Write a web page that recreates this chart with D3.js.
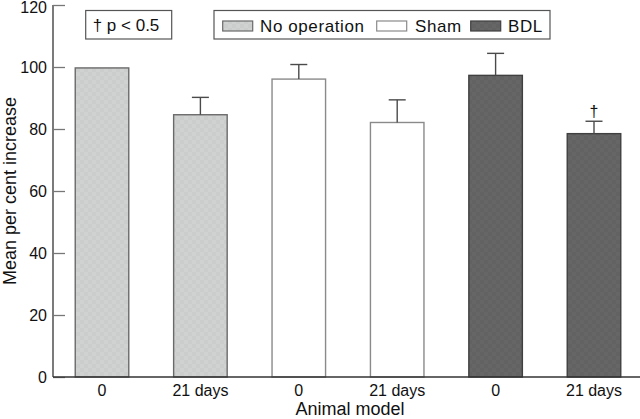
<!DOCTYPE html>
<html>
<head>
<meta charset="utf-8">
<script src="https://cdn.jsdelivr.net/npm/d3@7"></script>
<style>
  html, body { margin: 0; padding: 0; background: #fff; }
  svg { display: block; font-family: "Liberation Sans", Arial, Helvetica, sans-serif; }
</style>
</head>
<body>
<svg id="chart" width="640" height="419"></svg>
<script>
// ---- data ----
const categories = ["0", "21 days", "0", "21 days", "0", "21 days"];
const groups = ["No operation", "No operation", "Sham", "Sham", "BDL", "BDL"];
const means = [99.7, 84.6, 96.1, 82.1, 97.3, 78.5];
const errors = [0, 5.6, 4.7, 7.3, 7.1, 4.0];
const significant = [false, false, false, false, false, true];
const yTicks = [0, 20, 40, 60, 80, 100, 120];
const legendLabels = ["No operation", "Sham", "BDL"];
const sigNote = "\u2020 p < 0.5";
const xTitle = "Animal model";
const yTitle = "Mean per cent increase";

// ---- styles ----
const fills = { "No operation": "url(#checkLight)", "Sham": "#ffffff", "BDL": "url(#checkDark)" };
const strokes = { "No operation": "#6a6a6a", "Sham": "#8a8a8a", "BDL": "#404040" };

const svg = d3.select("#chart");
const defs = svg.append("defs");
function checker(id, c1, c2) {
  const p = defs.append("pattern").attr("id", id).attr("width", 8).attr("height", 8)
    .attr("patternUnits", "userSpaceOnUse");
  p.append("rect").attr("width", 8).attr("height", 8).attr("fill", c1);
  p.append("rect").attr("width", 4).attr("height", 4).attr("fill", c2);
  p.append("rect").attr("x", 4).attr("y", 4).attr("width", 4).attr("height", 4).attr("fill", c2);
}
checker("checkLight", "#d0d2d1", "#cbcdcc");
checker("checkDark", "#666666", "#626262");

const x = d3.scaleBand().domain(d3.range(categories.length)).range([53, 643])
  .paddingInner(0.456).paddingOuter(0.226);
const y = d3.scaleLinear().domain([0, 120]).range([377, 5]);

const rows = means.map((m, i) => ({ i, m, e: errors[i], g: groups[i], sig: significant[i] }));

// bars
svg.append("g").selectAll("rect").data(rows).join("rect")
  .attr("x", d => x(d.i))
  .attr("y", d => y(d.m))
  .attr("width", x.bandwidth())
  .attr("height", d => y(0) - y(d.m))
  .attr("fill", d => fills[d.g])
  .attr("stroke", d => strokes[d.g])
  .attr("stroke-width", 1.4);

// error bars
const eg = svg.append("g").attr("stroke", "#4a4a4a").attr("stroke-width", 1.4);
rows.filter(d => d.e > 0).forEach(d => {
  const cx = x(d.i) + x.bandwidth() / 2;
  eg.append("line").attr("x1", cx).attr("x2", cx).attr("y1", y(d.m)).attr("y2", y(d.m + d.e));
  eg.append("line").attr("x1", cx - 8.5).attr("x2", cx + 8.5).attr("y1", y(d.m + d.e)).attr("y2", y(d.m + d.e));
});

// significance marks
svg.append("g").selectAll("text").data(rows.filter(d => d.sig)).join("text")
  .attr("x", d => x(d.i) + x.bandwidth() / 2)
  .attr("y", d => y(d.m + d.e) - 4)
  .attr("text-anchor", "middle")
  .attr("font-size", 16)
  .attr("fill", "#111")
  .text("\u2020");

// y axis
const yAxis = svg.append("g").attr("transform", "translate(53,0)")
  .call(d3.axisRight(y).tickValues(yTicks).tickSize(12).tickFormat(d3.format("d")));
yAxis.select(".domain").attr("stroke", "#333").attr("stroke-width", 1.3).attr("d", `M0,${y(120)}V${y(0)}`);
yAxis.selectAll(".tick line").attr("stroke", "#777").attr("stroke-width", 1.3);
yAxis.selectAll(".tick text").attr("x", -6).attr("text-anchor", "end")
  .attr("font-size", 16).attr("font-family", "Liberation Sans, Arial, sans-serif").attr("fill", "#111");
yAxis.selectAll(".tick text").filter(d => d === 120).attr("dy", "0.45em");

// x axis
const xAxis = svg.append("g").attr("transform", `translate(0,${y(0)})`)
  .call(d3.axisBottom(x).tickSize(0).tickFormat(i => categories[i]));
xAxis.select(".domain").attr("stroke", "#333").attr("stroke-width", 1.3).attr("d", "M53,0H640");
xAxis.selectAll(".tick text").attr("y", 19).attr("dy", 0)
  .attr("font-size", 16).attr("font-family", "Liberation Sans, Arial, sans-serif").attr("fill", "#111");

// axis titles
svg.append("text").attr("x", 350).attr("y", 415).attr("text-anchor", "middle")
  .attr("font-size", 18).attr("fill", "#111").text(xTitle);
svg.append("text").attr("transform", `translate(16,${(y(0) + y(120)) / 2}) rotate(-90)`)
  .attr("text-anchor", "middle").attr("font-size", 18).attr("fill", "#111").text(yTitle);

// significance note box
svg.append("rect").attr("x", 85.7).attr("y", 10.5).attr("width", 86).attr("height", 28.5)
  .attr("fill", "#fff").attr("stroke", "#555").attr("stroke-width", 1.2);
svg.append("text").attr("x", 92.7).attr("y", 31).attr("font-size", 17).attr("fill", "#111").text(sigNote);

// legend
svg.append("rect").attr("x", 214).attr("y", 10.5).attr("width", 336).attr("height", 28.5)
  .attr("fill", "#fff").attr("stroke", "#555").attr("stroke-width", 1.2);
const swatchX = [222.7, 376.7, 470.7];
const textX = [260, 415, 508];
legendLabels.forEach((lab, i) => {
  svg.append("rect").attr("x", swatchX[i]).attr("y", 21).attr("width", 30).attr("height", 10)
    .attr("fill", fills[lab]).attr("stroke", strokes[lab]).attr("stroke-width", 1.2);
  svg.append("text").attr("x", textX[i]).attr("y", 31.5).attr("font-size", 17)
    .attr("letter-spacing", 0.6).attr("fill", "#111").text(lab);
});
</script>
</body>
</html>
